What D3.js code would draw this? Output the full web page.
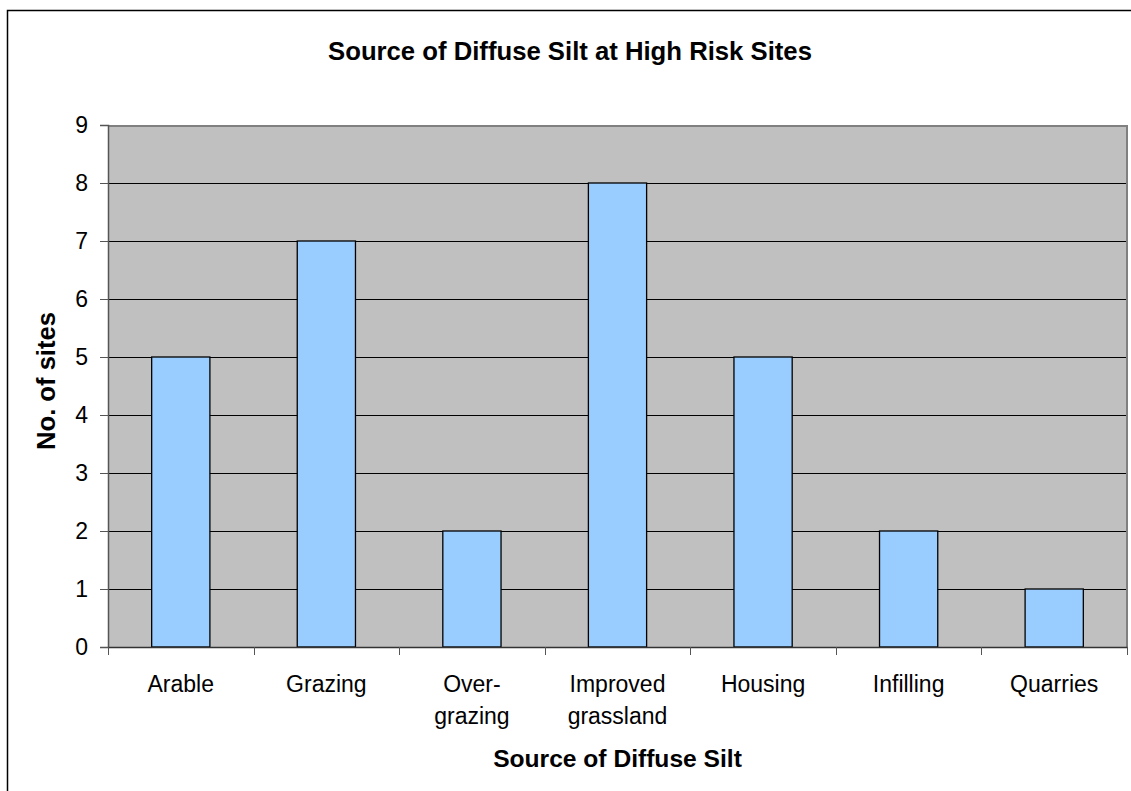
<!DOCTYPE html>
<html><head><meta charset="utf-8">
<script src="https://cdn.jsdelivr.net/npm/d3@7"></script>
<style>body{margin:0;background:#fff}svg{display:block}text{font-family:"Liberation Sans",Arial,sans-serif;fill:#000}</style>
</head><body>
<svg id="c" width="1131" height="791"></svg>
<script>
const categories = [["Arable"],["Grazing"],["Over-","grazing"],["Improved","grassland"],["Housing"],["Infilling"],["Quarries"]];
const values = [5,7,2,8,5,2,1];
const yTicks = [0,1,2,3,4,5,6,7,8,9];
const title = "Source of Diffuse Silt at High Risk Sites";
const xTitle = "Source of Diffuse Silt";
const yTitle = "No. of sites";

const svg = d3.select("#c");
const L=108, R=1127, T=125, B=647;
const keys = categories.map(c=>c.join(" "));
const x = d3.scaleBand().domain(keys).range([L,R]);
const y = d3.scaleLinear().domain([0,9]).range([B,T]);

// outer border
svg.append("rect").attr("x",7.5).attr("y",10.5).attr("width",1140).attr("height",800)
  .attr("fill","#fff").attr("stroke","#000").attr("stroke-width",1.5);

// plot background
svg.append("rect").attr("x",L).attr("y",T).attr("width",R-L).attr("height",B-T).attr("fill","#C0C0C0");

// gridlines
svg.append("g").selectAll("line").data(yTicks.filter(d=>d>0&&d<9)).join("line")
  .attr("x1",L).attr("x2",R).attr("y1",d=>Math.round(y(d))+0.5).attr("y2",d=>Math.round(y(d))+0.5)
  .attr("stroke","#000").attr("stroke-width",1);

// plot border top/right
svg.append("path").attr("d",`M${L},${T+1}H${R}V${B}`).attr("fill","none").attr("stroke","#808080").attr("stroke-width",2);

// bars
const step = x.bandwidth();
svg.append("g").selectAll("rect").data(values).join("rect")
  .attr("x",(d,i)=>x(keys[i])+step*0.3).attr("width",step*0.4)
  .attr("y",d=>y(d)).attr("height",d=>B-y(d))
  .attr("fill","#99CCFF").attr("stroke","#000").attr("stroke-width",1.3);

// y axis
const ya = svg.append("g").attr("transform",`translate(${L},0)`)
  .call(d3.axisLeft(y).tickValues(yTicks).tickSize(8).tickPadding(12).tickFormat(d3.format("d")));
ya.select(".domain").attr("stroke","#555").attr("stroke-width",1.5);
ya.selectAll(".tick line").attr("stroke","#555");
ya.selectAll("text").attr("font-size",23).attr("font-family","Liberation Sans, Arial, sans-serif").attr("fill","#000");

// x axis
const xa = svg.append("g").attr("transform",`translate(0,${B})`)
  .call(d3.axisBottom(x).tickSize(0).tickFormat(""));
xa.select(".domain").attr("stroke","#333").attr("stroke-width",1.5);
xa.selectAll(".tick text").remove();
const bounds = keys.map(k=>x(k)).concat([R]);
svg.append("g").selectAll("line").data(bounds).join("line")
  .attr("x1",d=>Math.round(d)+0.5).attr("x2",d=>Math.round(d)+0.5).attr("y1",B).attr("y2",B+8)
  .attr("stroke","#555").attr("stroke-width",1);

// category labels
const lab = svg.append("g").selectAll("text").data(categories).join("text")
  .attr("text-anchor","middle").attr("font-size",23)
  .attr("x",(d,i)=>x(keys[i])+step/2).attr("y",692);
lab.selectAll("tspan").data(d=>d).join("tspan")
  .attr("x",function(){return this.parentNode.getAttribute("x");})
  .attr("dy",(d,i)=>i===0?0:31.5).text(d=>d);

// titles
svg.append("text").attr("x",570).attr("y",60).attr("text-anchor","middle")
  .attr("font-size",25.7).attr("font-weight","bold").text(title);
svg.append("text").attr("x",(L+R)/2).attr("y",767).attr("text-anchor","middle")
  .attr("font-size",24.6).attr("font-weight","bold").text(xTitle);
svg.append("text").attr("transform",`translate(55,381) rotate(-90)`).attr("text-anchor","middle")
  .attr("font-size",25.6).attr("font-weight","bold").text(yTitle);
</script>
</body></html>
